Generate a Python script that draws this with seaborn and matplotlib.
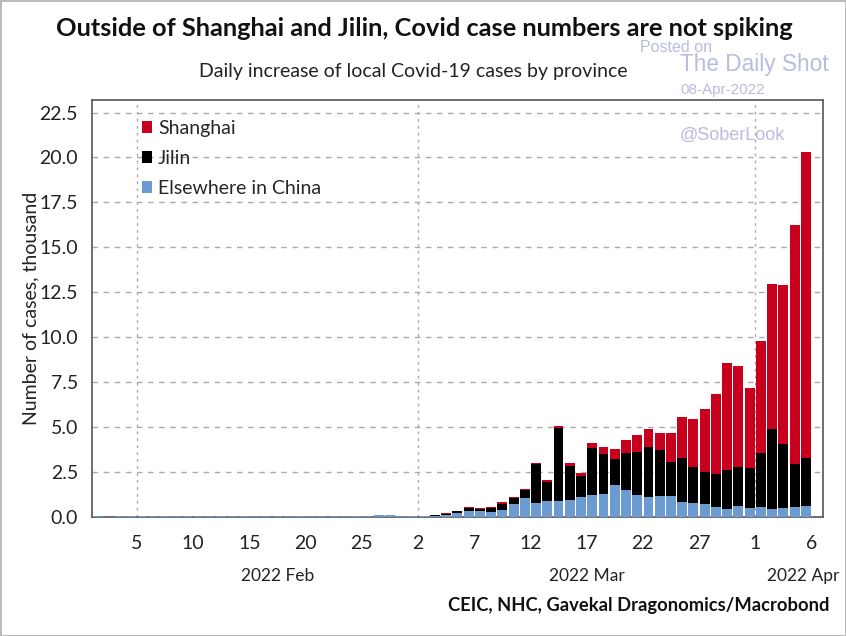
import numpy as np
import pandas as pd
import seaborn as sns
import matplotlib.pyplot as plt
import matplotlib.dates as mdates
import matplotlib.transforms as mtransforms

# daily new local cases, thousand (Feb 1 .. Apr 5, 2022)
start_date = "2022-02-01"
elsewhere = [0.03, 0.02, 0.03, 0.03, 0.03, 0.04, 0.04, 0.05, 0.04, 0.03,
             0.04, 0.03, 0.03, 0.03, 0.03, 0.03, 0.04, 0.05, 0.07, 0.05,
             0.04, 0.06, 0.06, 0.05, 0.06, 0.10, 0.10, 0.05, 0.06, 0.04,
             0.06, 0.10, 0.21, 0.36, 0.35, 0.30, 0.40, 0.73, 1.05, 0.79,
             0.87, 0.88, 0.96, 1.11, 1.20, 1.28, 1.80, 1.48, 1.22, 1.11,
             1.15, 1.17, 0.83, 0.80, 0.72, 0.56, 0.46, 0.61, 0.50, 0.56,
             0.43, 0.52, 0.56, 0.59]
jilin = [0.00, 0.00, 0.00, 0.01, 0.01, 0.01, 0.01, 0.01, 0.01, 0.01,
         0.01, 0.01, 0.00, 0.00, 0.00, 0.01, 0.01, 0.01, 0.01, 0.03,
         0.01, 0.01, 0.01, 0.02, 0.01, 0.01, 0.01, 0.02, 0.02, 0.02,
         0.05, 0.09, 0.10, 0.13, 0.12, 0.22, 0.34, 0.31, 0.43, 2.16,
         1.05, 4.08, 1.87, 1.15, 2.65, 2.20, 1.44, 2.06, 2.41, 2.78,
         2.55, 1.89, 2.43, 1.98, 1.78, 1.81, 2.17, 2.19, 2.22, 3.00,
         4.48, 3.52, 2.40, 2.72]
shanghai = [0.00, 0.00, 0.00, 0.00, 0.00, 0.00, 0.00, 0.00, 0.00, 0.00,
            0.00, 0.00, 0.00, 0.00, 0.00, 0.00, 0.00, 0.00, 0.00, 0.00,
            0.00, 0.00, 0.00, 0.00, 0.00, 0.00, 0.00, 0.00, 0.00, 0.01,
            0.01, 0.02, 0.03, 0.06, 0.04, 0.05, 0.08, 0.07, 0.07, 0.08,
            0.13, 0.12, 0.19, 0.18, 0.28, 0.41, 0.56, 0.76, 0.91, 0.98,
            0.99, 1.63, 2.30, 2.65, 3.52, 4.48, 5.95, 5.60, 4.43, 6.24,
            8.04, 8.86, 13.29, 16.99]

series_names = ["Shanghai", "Jilin", "Elsewhere in China"]
series_colors = ["#C8001E", "#000000", "#6C9BD2"]

tick_dates = ["2022-02-05", "2022-02-10", "2022-02-15", "2022-02-20", "2022-02-25",
              "2022-03-02", "2022-03-07", "2022-03-12", "2022-03-17", "2022-03-22",
              "2022-03-27", "2022-04-01", "2022-04-06"]
tick_labels = ["5", "10", "15", "20", "25", "2", "7", "12", "17", "22", "27", "1", "6"]
vgrid_dates = ["2022-02-05", "2022-03-02", "2022-04-01"]
month_labels = [("2022-02-17 12:00", "2022 Feb"), ("2022-03-17", "2022 Mar")]
y_ticks = [0, 2.5, 5, 7.5, 10, 12.5, 15, 17.5, 20, 22.5]

# long table for seaborn
days = pd.date_range(start_date, periods=len(elsewhere), freq="D")
day_num = mdates.date2num(days) + 0.5
df = pd.DataFrame({
    "day": np.concatenate([day_num] * 3),
    "cases": shanghai + jilin + elsewhere,
    "series": np.repeat(series_names, len(days)),
})

sns.set_style("white")
plt.rcParams["font.family"] = ["Lato", "DejaVu Sans"]

fig = plt.figure(figsize=(8.46, 6.36), dpi=100)
ax = fig.add_axes([0.1087, 0.1871, 0.8638, 0.6557])

sns.histplot(data=df, x="day", weights="cases", hue="series", hue_order=series_names,
             palette=series_colors, multiple="stack", binwidth=1,
             binrange=(day_num[0] - 0.5, day_num[-1] + 0.5), shrink=0.88,
             linewidth=0, alpha=1, ax=ax, zorder=3)

ax.set_xlim(mdates.date2num(pd.Timestamp("2022-02-01")), mdates.date2num(pd.Timestamp("2022-04-07")))
ax.set_ylim(0, 23.2)

ax.set_yticks(y_ticks)
ax.set_yticklabels([f"{v:.1f}" for v in y_ticks], fontsize=14, color="#222222")
ax.set_xticks(mdates.date2num(pd.to_datetime(tick_dates)))
ax.set_xticklabels(tick_labels, fontsize=14, color="#222222")
ax.tick_params(axis="both", direction="out", width=1, color="#555555")
ax.tick_params(axis="x", length=5, pad=8)
ax.tick_params(axis="y", length=7, pad=3)

ax.grid(axis="y", linestyle=(0, (4, 4)), color="#AAAAAA", linewidth=1, zorder=0)
for d in vgrid_dates:
    ax.axvline(mdates.date2num(pd.Timestamp(d)), linestyle=(0, (2, 3)), color="#AAAAAA",
               linewidth=1, zorder=0)

for s in ax.spines.values():
    s.set_color("#555555")
    s.set_linewidth(1.2)

ax.set_xlabel("")
ax.set_ylabel("Number of cases, thousand", fontsize=14, color="#222222", labelpad=0)

trans = mtransforms.blended_transform_factory(ax.transData, ax.transAxes)
for d, lab in month_labels:
    ax.text(mdates.date2num(pd.Timestamp(d)), -0.142, lab, transform=trans,
            ha="center", va="center", fontsize=12.5, color="#222222")
fig.text(839 / 846, 1 - 576 / 636, "2022 Apr", ha="right", va="center", fontsize=12.5, color="#222222")

sns.move_legend(ax, "upper left", bbox_to_anchor=(0.068, 0.953), frameon=False, title=None,
                fontsize=14, handlelength=0.55, handleheight=0.55, handletextpad=0.3,
                labelspacing=0.68, borderpad=0, borderaxespad=0)

fig.text(0.502, 1 - 29 / 636, "Outside of Shanghai and Jilin, Covid case numbers are not spiking",
         ha="center", va="center", fontsize=18.3, fontweight="bold", color="#111111", zorder=5)
fig.text(0.489, 1 - 72 / 636, "Daily increase of local Covid-19 cases by province",
         ha="center", va="center", fontsize=14, color="#222222")
fig.text(829 / 846, 1 - 606 / 636, "CEIC, NHC, Gavekal Dragonomics/Macrobond",
         ha="right", va="center", fontsize=13.2, fontweight="bold", color="#111111")

wm = dict(color="#B9BCE0", family="Liberation Sans", va="center", ha="left")
fig.text(640 / 846, 1 - 47 / 636, "Posted on", fontsize=11.5, **wm)
fig.text(680 / 846, 1 - 65 / 636, "The Daily Shot", fontsize=16.3, **wm)
fig.text(680 / 846, 1 - 90 / 636, "08-Apr-2022", fontsize=11, **wm)
fig.text(680 / 846, 1 - 135 / 636, "@SoberLook", fontsize=13, **wm)

fig.patch.set_edgecolor("#BBBBBB")
fig.patch.set_linewidth(2)

fig.savefig("out.png", dpi=100, edgecolor=fig.get_edgecolor())
